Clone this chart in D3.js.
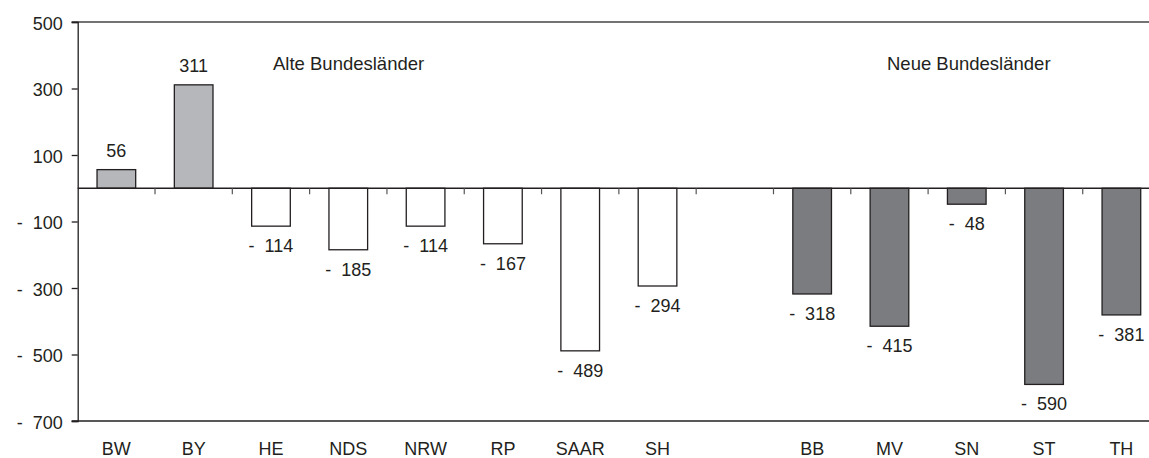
<!DOCTYPE html>
<html>
<head>
<meta charset="utf-8">
<script src="https://cdn.jsdelivr.net/npm/d3@7"></script>
<style>
  body { margin: 0; background: #fff; }
  svg { display: block; font-family: "Liberation Sans", Arial, sans-serif; }
  text { fill: #231f20; }
</style>
</head>
<body>
<div id="chart"></div>
<script>
// data
var alteLaender = ["BW", "BY", "HE", "NDS", "NRW", "RP", "SAAR", "SH"];
var alteWerte = [56, 311, -114, -185, -114, -167, -489, -294];
var neueLaender = ["BB", "MV", "SN", "ST", "TH"];
var neueWerte = [-318, -415, -48, -590, -381];
var yTicks = [500, 300, 100, -100, -300, -500, -700];
var gruppenTitel = ["Alte Bundesländer", "Neue Bundesländer"];

var width = 1149, height = 458;
var plotLeft = 77.7, step = 77.31;
var plotTop = 22, plotBottom = 421;

// one empty slot between the two groups
var slots = alteLaender.concat(["_gap"], neueLaender);

var rows = alteLaender.map(function(d, i) { return {land: d, wert: alteWerte[i], gruppe: "alt"}; })
    .concat(neueLaender.map(function(d, i) { return {land: d, wert: neueWerte[i], gruppe: "neu"}; }));

var svg = d3.select("#chart").append("svg")
    .attr("width", width)
    .attr("height", height);

var x = d3.scaleBand()
    .domain(slots)
    .range([plotLeft, plotLeft + step * slots.length])
    .paddingInner(0.5)
    .paddingOuter(0.25);

var y = d3.scaleLinear()
    .domain([-700, 500])
    .range([plotBottom, plotTop]);

function fmt(v) {
    return v < 0 ? "-\u00a0\u00a0" + Math.abs(v) : String(v);
}

// top and bottom frame lines
svg.append("line")
    .attr("x1", plotLeft - 6).attr("x2", width)
    .attr("y1", y(500)).attr("y2", y(500))
    .attr("stroke", "#444").attr("stroke-width", 1.3);
svg.append("line")
    .attr("x1", plotLeft - 6).attr("x2", width)
    .attr("y1", y(-700)).attr("y2", y(-700))
    .attr("stroke", "#231f20").attr("stroke-width", 1.3);

// y axis
var yAxis = svg.append("g")
    .attr("transform", "translate(" + plotLeft + ",0)")
    .call(d3.axisLeft(y).tickValues(yTicks).tickSize(6).tickPadding(9).tickFormat(fmt));
yAxis.select(".domain").attr("stroke", "#231f20").attr("stroke-width", 1.3);
yAxis.selectAll(".tick line").attr("stroke", "#231f20").attr("stroke-width", 1.3);
yAxis.selectAll(".tick text")
    .attr("dy", "0.4em")
    .style("font-size", "18px")
    .style("font-family", "'Liberation Sans', Arial, sans-serif")
    .style("fill", "#231f20");

// bars
svg.selectAll("rect.bar")
    .data(rows)
    .enter()
    .append("rect")
    .attr("class", "bar")
    .attr("x", function(d) { return x(d.land); })
    .attr("width", x.bandwidth())
    .attr("y", function(d) { return y(Math.max(0, d.wert)); })
    .attr("height", function(d) { return Math.abs(y(d.wert) - y(0)); })
    .attr("fill", function(d) {
        if (d.gruppe == "neu") return "#7b7c80";
        return d.wert > 0 ? "#b5b7ba" : "#ffffff";
    })
    .attr("stroke", "#231f20")
    .attr("stroke-width", 1.3);

// zero line with ticks at slot boundaries
svg.append("line")
    .attr("x1", plotLeft).attr("x2", width)
    .attr("y1", y(0)).attr("y2", y(0))
    .attr("stroke", "#231f20").attr("stroke-width", 1.3);
svg.selectAll("line.sep")
    .data(slots.slice(1))
    .enter()
    .append("line")
    .attr("class", "sep")
    .attr("x1", function(d) { return x(d) - x.step() * x.paddingInner() / 2; })
    .attr("x2", function(d) { return x(d) - x.step() * x.paddingInner() / 2; })
    .attr("y1", y(0)).attr("y2", y(0) + 6)
    .attr("stroke", "#555").attr("stroke-width", 1.2);

// value labels
svg.selectAll("text.wert")
    .data(rows)
    .enter()
    .append("text")
    .attr("class", "wert")
    .attr("x", function(d) { return x(d.land) + x.bandwidth() / 2; })
    .attr("y", function(d) { return d.wert > 0 ? y(d.wert) - 13 : y(d.wert) + 26; })
    .attr("text-anchor", "middle")
    .style("font-size", "18px")
    .text(function(d) { return fmt(d.wert); });

// category labels
svg.selectAll("text.land")
    .data(rows)
    .enter()
    .append("text")
    .attr("class", "land")
    .attr("x", function(d) { return x(d.land) + x.bandwidth() / 2; })
    .attr("y", 455)
    .attr("text-anchor", "middle")
    .style("font-size", "18px")
    .text(function(d) { return d.land; });

// group titles
svg.append("text")
    .attr("x", 273).attr("y", 69.5)
    .style("font-size", "18.5px")
    .text(gruppenTitel[0]);
svg.append("text")
    .attr("x", 887).attr("y", 70)
    .style("font-size", "18.5px")
    .text(gruppenTitel[1]);
</script>
</body>
</html>
